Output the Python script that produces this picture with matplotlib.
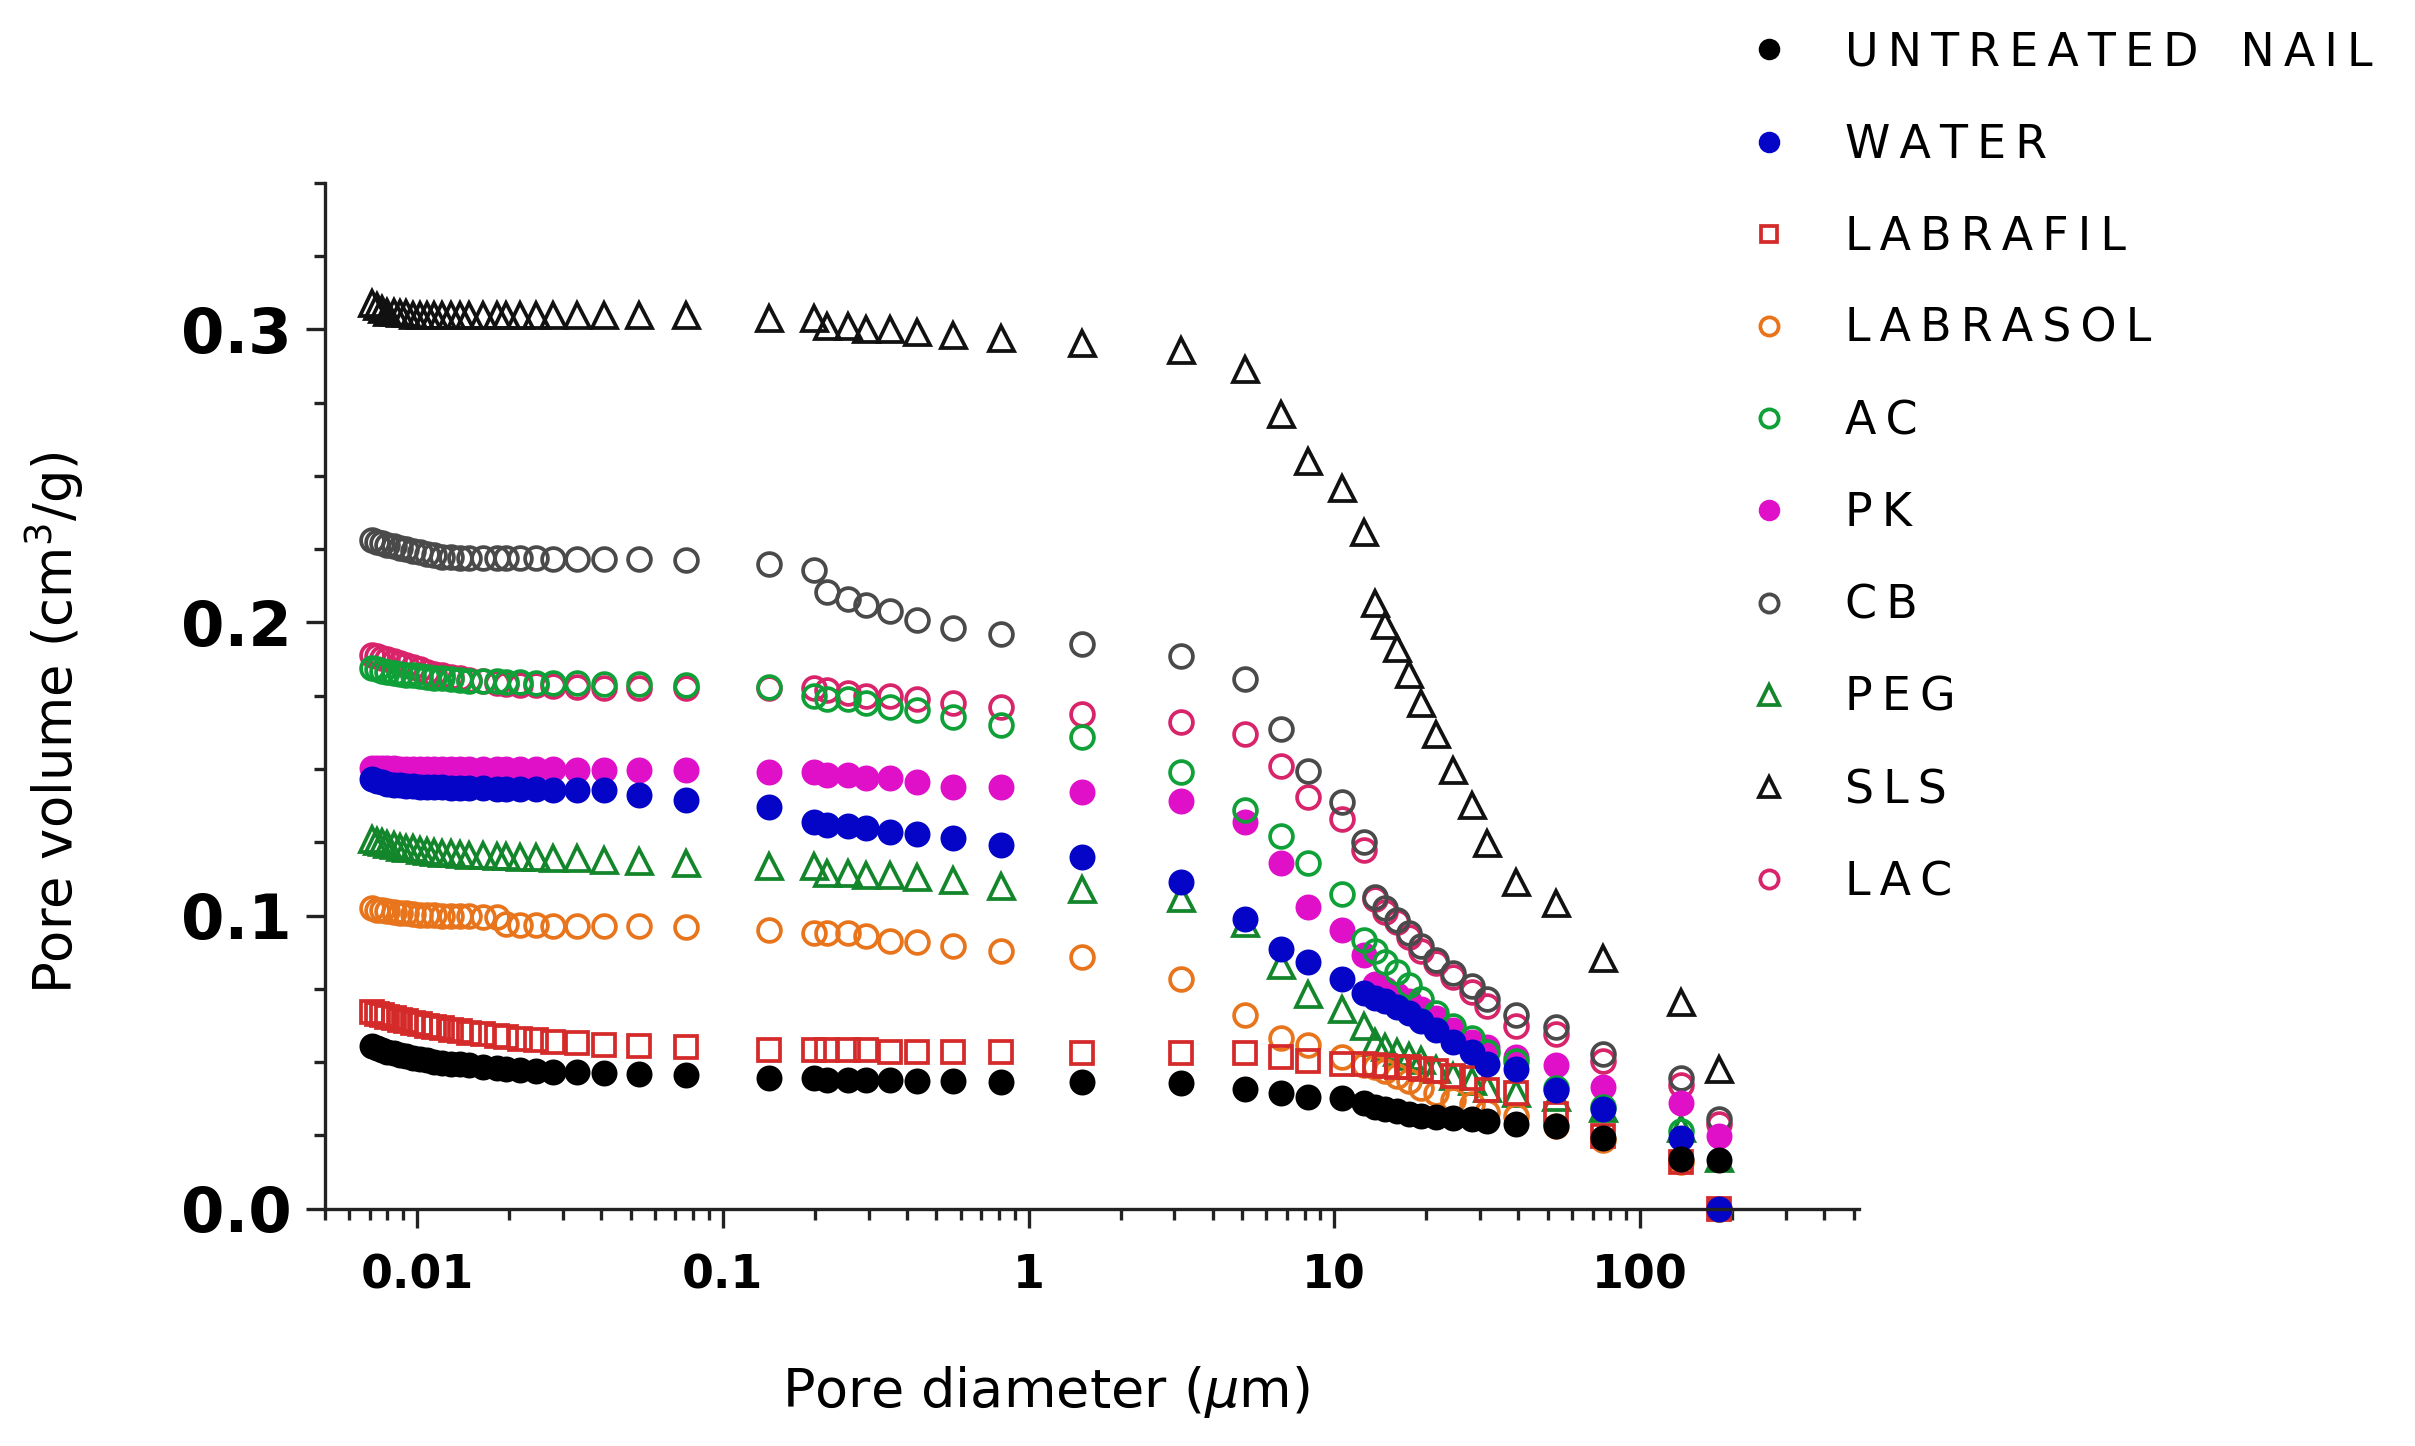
import numpy as np
import matplotlib
matplotlib.use('Agg')
import matplotlib.pyplot as plt
from matplotlib.ticker import FixedLocator, LogLocator, NullFormatter

# pore diameter (um), shared by all samples
x_um = [0.0071, 0.0074, 0.0077, 0.0080, 0.0084, 0.0088, 0.0092, 0.0097, 0.0102, 0.0108,
        0.0114, 0.0121, 0.0129, 0.0138, 0.0148, 0.0164, 0.0182, 0.0196, 0.0217, 0.0245,
        0.0278, 0.0333, 0.041, 0.053, 0.076,
        0.142, 0.199, 0.220, 0.256, 0.295, 0.351, 0.433, 0.566, 0.811, 1.50,
        3.16, 5.1, 6.7, 8.2, 10.6, 12.5, 13.6, 14.7, 16.0, 17.5,
        19.2, 21.6, 24.4, 28.2, 31.7, 39.4, 53.3, 75.7, 136, 181]

untreated = [0.0555, 0.0548, 0.0542, 0.0536, 0.053, 0.0525, 0.052, 0.0515, 0.051, 0.0506,
             0.0502, 0.0498, 0.0495, 0.0492, 0.049, 0.0485, 0.048, 0.0477, 0.0474, 0.0471,
             0.0468, 0.0465, 0.0462, 0.046, 0.0455,
             0.0445, 0.0445, 0.044, 0.044, 0.044, 0.044, 0.0437, 0.0437, 0.0432, 0.0432,
             0.0428, 0.041, 0.0396, 0.038, 0.0376, 0.036, 0.0347, 0.0339, 0.0334, 0.0322,
             0.0317, 0.0314, 0.031, 0.0306, 0.0298, 0.029, 0.0282, 0.0241, 0.017, 0.0167]
water = [0.1465, 0.146, 0.1455, 0.145, 0.1447, 0.1445, 0.1443, 0.1442, 0.144, 0.144,
         0.1438, 0.1437, 0.1436, 0.1435, 0.1435, 0.1434, 0.1433, 0.1432, 0.1432, 0.1431,
         0.143, 0.143, 0.1428, 0.141, 0.1395,
         0.137, 0.132, 0.131, 0.1306, 0.130, 0.1286, 0.128, 0.1265, 0.124, 0.120,
         0.1115, 0.099, 0.0887, 0.084, 0.0784, 0.0735, 0.0718, 0.0709, 0.0687, 0.0666,
         0.0641, 0.0609, 0.0568, 0.0535, 0.0494, 0.0478, 0.0405, 0.0339, 0.0241, 0.0]
labrafil = [0.067, 0.0665, 0.066, 0.0655, 0.065, 0.0645, 0.064, 0.0635, 0.063, 0.0625,
            0.062, 0.0615, 0.061, 0.0605, 0.06, 0.0595, 0.059, 0.0585, 0.058, 0.0575,
            0.057, 0.0565, 0.056, 0.0555, 0.055,
            0.054, 0.054, 0.054, 0.054, 0.054, 0.0535, 0.0535, 0.0535, 0.0535, 0.053,
            0.053, 0.053, 0.0517, 0.0505, 0.0495, 0.0493, 0.049, 0.0488, 0.0485, 0.0482,
            0.0478, 0.047, 0.0453, 0.0445, 0.0405, 0.0396, 0.0323, 0.0249, 0.016, 0.0]
labrasol = [0.1025, 0.102, 0.1018, 0.1015, 0.1012, 0.101, 0.1008, 0.1005, 0.1003, 0.1002,
            0.1001, 0.1, 0.0999, 0.0998, 0.0997, 0.0996, 0.0995, 0.097, 0.0968, 0.0967,
            0.0966, 0.0965, 0.0964, 0.0963, 0.0962,
            0.095, 0.094, 0.094, 0.094, 0.093, 0.0915, 0.091, 0.0895, 0.088, 0.086,
            0.0785, 0.066, 0.0584, 0.056, 0.0516, 0.049, 0.0482, 0.047, 0.0454, 0.0437,
            0.0413, 0.0396, 0.0372, 0.0356, 0.033, 0.0315, 0.0282, 0.0233, 0.016, 0.0]
ac = [0.1845, 0.184, 0.1835, 0.183, 0.1828, 0.1825, 0.1822, 0.182, 0.1818, 0.1815,
      0.1812, 0.181, 0.1808, 0.1805, 0.1802, 0.18, 0.18, 0.1798, 0.1796, 0.1795,
      0.1793, 0.1792, 0.179, 0.179, 0.1788,
      0.178, 0.175, 0.174, 0.174, 0.1725, 0.171, 0.170, 0.1677, 0.165, 0.161,
      0.149, 0.136, 0.127, 0.118, 0.1075, 0.0916, 0.088, 0.0843, 0.0806, 0.0764,
      0.0715, 0.0669, 0.0625, 0.0584, 0.0535, 0.0503, 0.0413, 0.0347, 0.0266, 0.0]
pk = [0.1505, 0.1505, 0.1503, 0.1502, 0.1502, 0.15, 0.15, 0.15, 0.15, 0.15,
      0.15, 0.15, 0.15, 0.15, 0.15, 0.15, 0.15, 0.15, 0.15, 0.15,
      0.15, 0.1498, 0.1497, 0.1495, 0.1495,
      0.149, 0.149, 0.148, 0.148, 0.147, 0.147, 0.1455, 0.144, 0.144, 0.142,
      0.139, 0.132, 0.118, 0.1029, 0.0952, 0.0864, 0.0766, 0.075, 0.073, 0.0707,
      0.0682, 0.065, 0.0609, 0.0568, 0.0552, 0.0516, 0.0491, 0.0416, 0.036, 0.0249]
cb = [0.228, 0.2275, 0.227, 0.2265, 0.226, 0.2255, 0.225, 0.2245, 0.224, 0.2235,
      0.223, 0.2225, 0.2222, 0.222, 0.222, 0.222, 0.222, 0.222, 0.222, 0.222,
      0.2218, 0.2218, 0.2216, 0.2215, 0.2214,
      0.220, 0.218, 0.2105, 0.208, 0.206, 0.204, 0.201, 0.198, 0.196, 0.1925,
      0.1885, 0.1806, 0.1635, 0.1492, 0.1386, 0.1252, 0.1062, 0.1026, 0.0985, 0.094,
      0.0895, 0.0849, 0.0805, 0.0761, 0.0715, 0.0661, 0.062, 0.0527, 0.0445, 0.0306]
peg = [0.126, 0.1255, 0.125, 0.1245, 0.124, 0.1235, 0.1232, 0.123, 0.1225, 0.122,
       0.1218, 0.1215, 0.1212, 0.121, 0.1208, 0.1205, 0.1203, 0.1202, 0.12, 0.12,
       0.1198, 0.1195, 0.119, 0.1185, 0.118,
       0.117, 0.117, 0.1146, 0.1146, 0.114, 0.114, 0.113, 0.112, 0.110, 0.109,
       0.106, 0.0975, 0.083, 0.0731, 0.0683, 0.0625, 0.0568, 0.0552, 0.0535, 0.0522,
       0.0506, 0.0478, 0.0453, 0.0437, 0.0413, 0.0395, 0.038, 0.0343, 0.0274, 0.0172]
sls = [0.309, 0.308, 0.307, 0.306, 0.306, 0.3055, 0.3055, 0.305, 0.305, 0.305,
       0.305, 0.305, 0.305, 0.305, 0.305, 0.305, 0.305, 0.305, 0.305, 0.305,
       0.305, 0.305, 0.305, 0.305, 0.305,
       0.304, 0.304, 0.301, 0.301, 0.300, 0.300, 0.299, 0.298, 0.297, 0.2955,
       0.293, 0.2865, 0.271, 0.255, 0.2458, 0.231, 0.2068, 0.1993, 0.1912, 0.1823,
       0.1725, 0.1619, 0.1496, 0.1377, 0.1246, 0.1115, 0.1042, 0.0857, 0.0704, 0.0478]
lac = [0.189, 0.1885, 0.188, 0.1875, 0.187, 0.1862, 0.1855, 0.1848, 0.184, 0.1832,
       0.1825, 0.182, 0.1815, 0.181, 0.1805, 0.18, 0.1795, 0.179, 0.1788, 0.1785,
       0.1782, 0.178, 0.1778, 0.1776, 0.1775,
       0.1778, 0.1776, 0.177, 0.176, 0.175, 0.175, 0.174, 0.1725, 0.171, 0.1687,
       0.166, 0.162, 0.151, 0.1405, 0.1329, 0.1223, 0.1058, 0.1013, 0.0977, 0.0928,
       0.0879, 0.0838, 0.0789, 0.074, 0.0691, 0.0625, 0.0597, 0.0503, 0.0421, 0.029]

names = ['UNTREATED NAIL', 'WATER', 'LABRAFIL', 'LABRASOL', 'AC', 'PK', 'CB', 'PEG', 'SLS', 'LAC']
series = [untreated, water, labrafil, labrasol, ac, pk, cb, peg, sls, lac]
# (marker, colour, filled, size)
styles = [('o', '#000000', True, 8.0),
          ('o', '#0505c8', True, 8.0),
          ('s', '#d42a2a', False, 7.6),
          ('o', '#e8741c', False, 8.2),
          ('o', '#0fa038', False, 8.2),
          ('o', '#e010c8', True, 8.0),
          ('o', '#4a4a4a', False, 8.2),
          ('^', '#13852a', False, 9.0),
          ('^', '#111111', False, 9.0),
          ('o', '#d8246a', False, 8.2)]

fig = plt.figure(figsize=(12.075, 7.23), dpi=200)
ax = fig.add_axes([0.1346, 0.1641, 0.6351, 0.7095])

handles = {}
# draw last legend entry first so untreated/water end up on top
for i in reversed(range(len(names))):
    m, c, filled, ms = styles[i]
    line, = ax.plot(x_um, series[i], linestyle='none', marker=m, markersize=ms,
                    markeredgecolor=c, markerfacecolor=c if filled else 'none',
                    markeredgewidth=1.35, clip_on=False, label=names[i])
    handles[names[i]] = line

ax.set_xscale('log')
ax.set_xlim(0.005, 520)
ax.set_ylim(0, 0.35)

ax.spines['top'].set_visible(False)
ax.spines['right'].set_visible(False)
for s in ['left', 'bottom']:
    ax.spines[s].set_linewidth(1.2)
    ax.spines[s].set_color('#222222')

ax.yaxis.set_major_locator(FixedLocator([0.0, 0.1, 0.2, 0.3]))
ax.yaxis.set_minor_locator(FixedLocator(np.arange(0, 0.351, 0.025)))
ax.set_yticklabels(['0.0', '0.1', '0.2', '0.3'], fontsize=22.5, fontweight='bold')

ax.xaxis.set_major_locator(FixedLocator([0.01, 0.1, 1, 10, 100]))
ax.xaxis.set_minor_locator(LogLocator(base=10, subs=np.arange(2, 10)))
ax.xaxis.set_minor_formatter(NullFormatter())
ax.set_xticklabels(['0.01', '0.1', '1', '10', '100'], fontsize=16.5, fontweight='bold')

ax.tick_params(which='major', direction='out', length=7, width=1.2, color='#222222')
ax.tick_params(which='minor', direction='out', length=3.8, width=1.2, color='#222222')
ax.tick_params(axis='y', which='major', pad=5)
ax.tick_params(axis='x', which='major', pad=9)

fig.text(0.0224, 0.5, 'Pore volume (cm$^3$/g)', rotation=90, ha='center', va='center',
         fontsize=19)
fig.text(0.433, 0.037, r'Pore diameter ($\mu$m)', ha='center', va='center', fontsize=19.5)

spaced = ['\u2009'.join(n).replace('\u2009 \u2009', '\u2009 \u2009\u2009') for n in names]
leg = ax.legend([handles[n] for n in names], spaced, loc='upper left',
                bbox_to_anchor=(0.7232, 0.979), bbox_transform=fig.transFigure,
                frameon=False, numpoints=1, markerscale=0.8, fontsize=16.5,
                handlelength=1.0, handletextpad=1.15, labelspacing=1.03,
                borderpad=0, borderaxespad=0)

fig.savefig('out.png', dpi=200)
